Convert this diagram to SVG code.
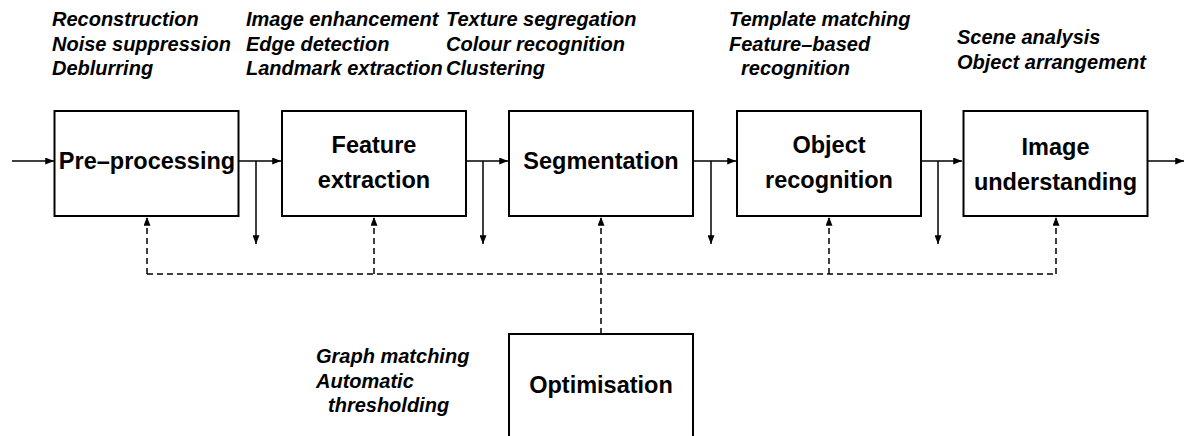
<svg xmlns="http://www.w3.org/2000/svg" width="1185" height="436" viewBox="0 0 1185 436">
<style>
.box{fill:#fff;stroke:#000;stroke-width:2}
.lbl{font-family:"Liberation Sans",Arial,sans-serif;font-weight:bold;font-size:23.5px;text-anchor:middle;fill:#000}
.note{font-family:"Liberation Sans",Arial,sans-serif;font-weight:bold;font-style:italic;font-size:20px;fill:#000}
.ln{fill:none;stroke:#000;stroke-width:1.5}
.dash{fill:none;stroke:#000;stroke-width:1.5;stroke-dasharray:6 4}
</style>
<defs>
<marker id="ah" viewBox="0 0 10 8" refX="10" refY="4" markerWidth="10" markerHeight="7" markerUnits="userSpaceOnUse" orient="auto">
<path d="M0,0 L10,4 L0,8 Z" fill="#000"/>
</marker>
</defs>
<g id="notes">
<text class="note" x="52" y="26">Reconstruction</text>
<text class="note" x="52" y="50.5">Noise suppression</text>
<text class="note" x="52" y="75">Deblurring</text>
<text class="note" x="246" y="26">Image enhancement</text>
<text class="note" x="246" y="50.5">Edge detection</text>
<text class="note" x="246" y="75">Landmark extraction</text>
<text class="note" x="446" y="26">Texture segregation</text>
<text class="note" x="446" y="50.5">Colour recognition</text>
<text class="note" x="446" y="75">Clustering</text>
<text class="note" x="729" y="26">Template matching</text>
<text class="note" x="729" y="50.5">Feature–based</text>
<text class="note" x="741" y="75">recognition</text>
<text class="note" x="957" y="44">Scene analysis</text>
<text class="note" x="957" y="68.5">Object arrangement</text>
<text class="note" x="316" y="363">Graph matching</text>
<text class="note" x="316" y="387.5">Automatic</text>
<text class="note" x="328" y="412">thresholding</text>
</g>
<g id="connectors">
<line class="ln" x1="12" y1="161" x2="54" y2="161" marker-end="url(#ah)"/>
<line class="ln" x1="239" y1="161" x2="281" y2="161" marker-end="url(#ah)"/>
<line class="ln" x1="256" y1="161" x2="256" y2="244" marker-end="url(#ah)"/>
<line class="ln" x1="466" y1="161" x2="508" y2="161" marker-end="url(#ah)"/>
<line class="ln" x1="483" y1="161" x2="483" y2="244" marker-end="url(#ah)"/>
<line class="ln" x1="693" y1="161" x2="736" y2="161" marker-end="url(#ah)"/>
<line class="ln" x1="711" y1="161" x2="711" y2="244" marker-end="url(#ah)"/>
<line class="ln" x1="921" y1="161" x2="962" y2="161" marker-end="url(#ah)"/>
<line class="ln" x1="938" y1="161" x2="938" y2="244" marker-end="url(#ah)"/>
<line class="ln" x1="1148" y1="161" x2="1184" y2="161" marker-end="url(#ah)"/>
<polyline class="dash" points="147,274 1056,274"/>
<line class="dash" x1="147" y1="274" x2="147" y2="217" marker-end="url(#ah)"/>
<line class="dash" x1="374" y1="274" x2="374" y2="217" marker-end="url(#ah)"/>
<line class="dash" x1="601" y1="334" x2="601" y2="217" marker-end="url(#ah)"/>
<line class="dash" x1="829" y1="274" x2="829" y2="217" marker-end="url(#ah)"/>
<line class="dash" x1="1056" y1="274" x2="1056" y2="217" marker-end="url(#ah)"/>
</g>
<g id="preprocessing">
<rect class="box" x="54.5" y="111" width="184" height="105"/>
<text class="lbl" x="147" y="169">Pre–processing</text>
</g>
<g id="feature-extraction">
<rect class="box" x="282" y="111" width="184" height="105"/>
<text class="lbl" x="374" y="153">Feature</text>
<text class="lbl" x="374" y="188">extraction</text>
</g>
<g id="segmentation">
<rect class="box" x="509" y="111" width="184" height="105"/>
<text class="lbl" x="601" y="169">Segmentation</text>
</g>
<g id="object-recognition">
<rect class="box" x="737" y="111" width="184" height="105"/>
<text class="lbl" x="829" y="153">Object</text>
<text class="lbl" x="829" y="188">recognition</text>
</g>
<g id="image-understanding">
<rect class="box" x="963.5" y="111" width="184" height="105"/>
<text class="lbl" x="1055.5" y="155">Image</text>
<text class="lbl" x="1055.5" y="190">understanding</text>
</g>
<g id="optimisation">
<rect class="box" x="509" y="334" width="184" height="110"/>
<text class="lbl" x="601" y="393">Optimisation</text>
</g>
</svg>
